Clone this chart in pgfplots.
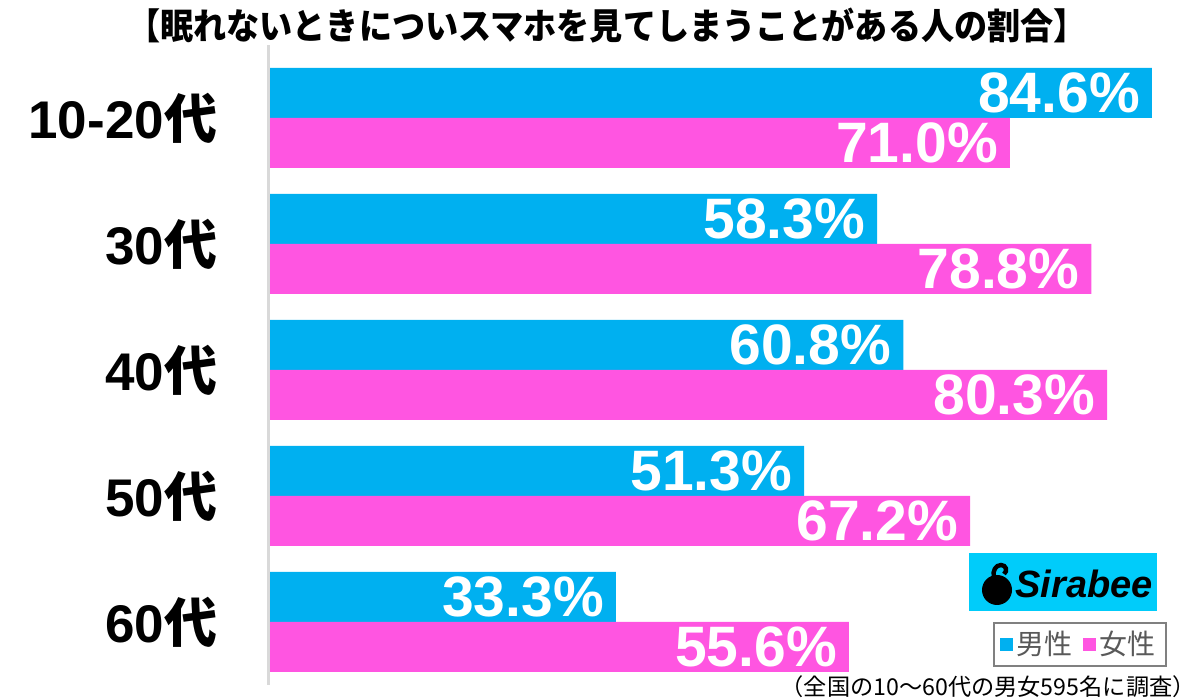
\documentclass[border=0pt]{standalone}
\usepackage{fontspec}
\setmainfont{Liberation Sans}
\newfontfamily\cjk{Noto Sans CJK JP}
\usepackage{graphicx}
\usepackage{pgfplots}
\pgfplotsset{compat=1.18}
\definecolor{male}{RGB}{0,176,240}
\definecolor{female}{RGB}{255,85,225}
\definecolor{logocyan}{RGB}{0,204,250}

\begin{document}
\begin{tikzpicture}
\useasboundingbox (0,0) rectangle (600pt,349.5pt);

% title
\node[font=\cjk\bfseries\fontsize{18}{18}\selectfont] at (303.5pt,336.5pt)
  {\scalebox{0.92}[1]{【眠れないときについスマホを見てしまうことがある人の割合】}};

\begin{axis}[
  at={(134pt,7pt)}, anchor=south west,
  scale only axis, width=466pt, height=320pt,
  xbar, bar width=25pt,
  xmin=0, xmax=89.2, ymin=-0.5, ymax=4.579,
  axis line style={draw=none},
  xtick=\empty,
  ytick={0,1,2,3,4},
  yticklabels={60{\cjk\bfseries 代},50{\cjk\bfseries 代},40{\cjk\bfseries 代},30{\cjk\bfseries 代},10-20{\cjk\bfseries 代}},
  ytick style={draw=none},
  yticklabel style={font=\fontsize{26.5}{26.5}\selectfont\bfseries, inner sep=0pt, xshift=-21pt},
  point meta=x,
  nodes near coords={\pgfmathprintnumber[assume math mode=true,fixed,fixed zerofill,precision=1]{\pgfplotspointmeta}\%},
  every node near coord/.append style={anchor=east, xshift=-2.5pt, text=white,
    font=\fontsize{28.5}{28.5}\selectfont\bfseries},
  clip=false,
  legend columns=2,
  legend style={at={(rel axis cs:0.778,0.098)}, anchor=north west,
    draw=black!50, line width=1pt, text=black!65,
    font=\cjk\fontsize{14}{14}\selectfont,
    /tikz/every even column/.append style={column sep=3pt}},
  legend image code/.code={\fill[#1, draw=none] (0pt,-3.2pt) rectangle (6.4pt,3.2pt);},
]
\addplot[fill=male, draw=none, bar shift=12.5pt]
  coordinates {(33.3,0) (51.3,1) (60.8,2) (58.3,3) (84.6,4)};
\addlegendentry{男性}
\addplot[fill=female, draw=none, bar shift=-12.5pt]
  coordinates {(55.6,0) (67.2,1) (80.3,2) (78.8,3) (71.0,4)};
\addlegendentry{女性}

\draw[black!15, line width=1.5pt] (axis cs:0,-0.5) -- (axis cs:0,4.579);
\end{axis}

% Sirabee logo
\fill[logocyan] (484.5pt,44pt) rectangle (578.5pt,73pt);
\fill[black] (498.5pt,54.5pt) circle (7.5pt);
\draw[black, line width=2.2pt] (497pt,61pt) .. controls (496pt,64pt) and (498pt,67pt) .. (500.5pt,67pt)
  .. controls (503pt,67pt) and (504pt,64pt) .. (502pt,62.5pt);
\node[font=\bfseries\itshape\fontsize{19}{19}\selectfont] at (542pt,57.5pt) {Sirabee};

% footnote
\node[anchor=east, inner sep=0pt, font=\cjk\fontsize{11.6}{11.6}\selectfont] at (598pt,6pt)
  {（全国の10〜60代の男女595名に調査）};
\end{tikzpicture}
\end{document}
